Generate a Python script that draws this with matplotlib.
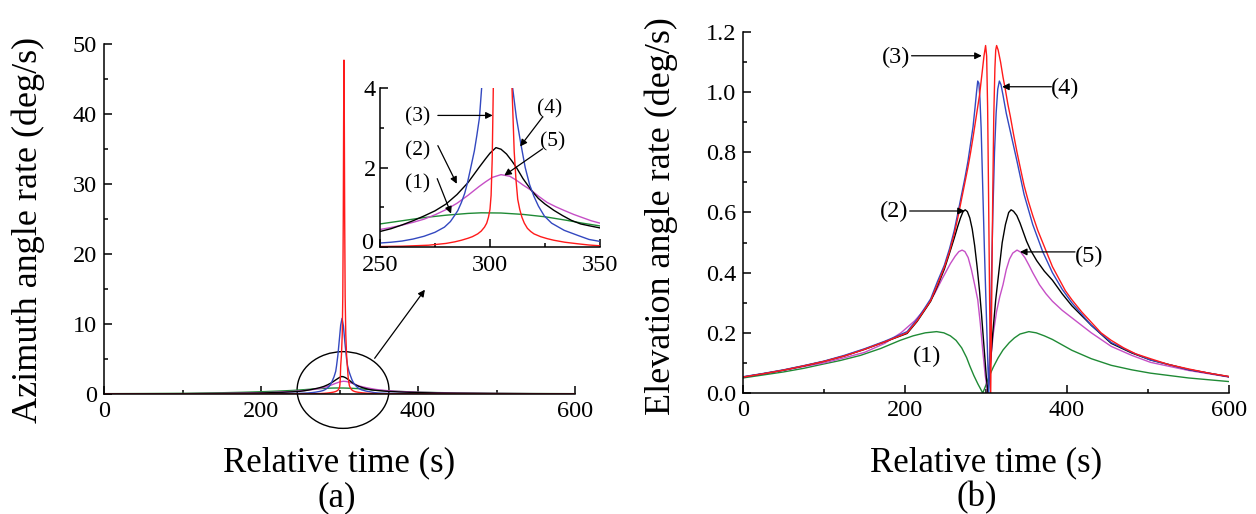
import numpy as np
import matplotlib.pyplot as plt
import matplotlib.transforms as mtrans
from matplotlib.patches import Ellipse

plt.rcParams['font.family'] = ['Liberation Serif', 'DejaVu Serif']

# ---- (a) azimuth angle rate, deg/s ----
az_t_red = [0, 100, 200, 250, 260, 265, 272, 280, 284, 287, 290, 292, 294.4, 296, 297.5, 298.5, 299.3,
            300, 300.5, 301, 301.5, 302.5, 303.5, 304.2, 304.8, 305.3, 305.7, 306.1, 306.6, 307.2, 308,
            309, 310, 311, 311.8, 312.6, 313.5, 314.5, 315.6, 317, 318.5, 320, 323, 326, 329, 334, 340,
            345, 350, 400, 500, 600]
az_v_red = [0, 0.003, 0.006, 0.012, 0.02, 0.03, 0.045, 0.09, 0.13, 0.17, 0.22, 0.26, 0.33, 0.4, 0.5, 0.6, 0.75,
            0.95, 1.3, 2.2, 4.0, 5.6, 8.5, 14, 25, 40, 47.7, 40, 25, 14, 8.5,
            5.6, 4.0, 2.4, 1.7, 1.2, 0.95, 0.75, 0.6, 0.47, 0.39, 0.33, 0.26, 0.21, 0.17, 0.12, 0.08,
            0.05, 0.03, 0.01, 0.004, 0.002]

az_t_blue = [0, 100, 200, 225, 240, 250, 255, 260, 265, 270, 275, 279.3, 282, 284, 285.4, 287, 288.5,
             289.6, 291, 292.9, 294, 295.2, 296.2, 298, 300, 301.5, 303.2, 305, 307, 309, 310.3, 312,
             314, 316, 318, 320, 322, 324.7, 328, 333.7, 340, 345, 350, 360, 375, 400, 500, 600]
az_v_blue = [0.003, 0.01, 0.03, 0.06, 0.08, 0.1, 0.12, 0.15, 0.2, 0.27, 0.37, 0.5, 0.64, 0.8, 0.92, 1.12, 1.35,
             1.58, 1.93, 2.42, 2.8, 3.25, 4.0, 5.6, 8.0, 9.83, 10.8, 9.72, 7.2, 5.0, 4.0, 3.25,
             2.6, 2.0, 1.57, 1.27, 1.03, 0.78, 0.6, 0.42, 0.29, 0.19, 0.14, 0.1, 0.07, 0.04, 0.01, 0.004]

az_t_black = [0, 50, 100, 150, 175, 200, 225, 240, 250, 255, 260, 265, 270, 275, 280, 285, 290, 295, 298,
              300, 302.7, 305, 307.5, 310, 312, 315, 318.9, 322, 325, 329.1, 333, 337, 341.2, 345, 350,
              360, 375, 400, 425, 450, 500, 550, 600]
az_v_black = [0.015, 0.025, 0.04, 0.07, 0.1, 0.14, 0.23, 0.31, 0.39, 0.46, 0.555, 0.66, 0.78, 0.91, 1.08, 1.32, 1.62, 2.0, 2.22,
              2.36, 2.5, 2.46, 2.34, 2.16, 2.0, 1.72, 1.42, 1.22, 1.08, 0.92, 0.79, 0.67, 0.58, 0.535, 0.48,
              0.39, 0.3, 0.2, 0.14, 0.1, 0.06, 0.04, 0.025]

az_t_mag = [0, 50, 100, 150, 175, 200, 225, 240, 250, 255, 260, 265, 270, 275, 280, 285, 290, 295, 298,
            301, 305, 309, 312, 315, 318.9, 322, 326, 330, 333.7, 338, 342, 346, 350, 360, 375, 400, 425,
            450, 500, 550, 600]
az_v_mag = [0.02, 0.03, 0.05, 0.09, 0.13, 0.18, 0.28, 0.36, 0.44, 0.49, 0.55, 0.62, 0.7, 0.81, 0.94, 1.1, 1.3, 1.52, 1.64,
            1.75, 1.82, 1.78, 1.68, 1.56, 1.42, 1.28, 1.12, 1.01, 0.92, 0.82, 0.74, 0.66, 0.6, 0.49, 0.37, 0.25, 0.18,
            0.13, 0.08, 0.05, 0.03]

az_t_green = [0, 50, 100, 150, 175, 200, 225, 240, 250, 260, 270, 280, 290, 296, 305, 315, 325, 335, 342,
              350, 360, 375, 400, 425, 450, 500, 550, 600]
az_v_green = [0.05, 0.07, 0.1, 0.18, 0.24, 0.32, 0.43, 0.51, 0.58, 0.66, 0.74, 0.8, 0.845, 0.86, 0.855, 0.82, 0.76,
              0.67, 0.6, 0.53, 0.45, 0.37, 0.27, 0.2, 0.16, 0.1, 0.07, 0.05]

# ---- (b) elevation angle rate, deg/s ----
el_t_red = [0, 25, 50, 75, 100, 125, 150, 175, 190, 202.6, 215, 225, 231.7, 240, 248.6, 255, 260.8, 265,
            269.5, 274, 277.7, 281, 284, 288, 292, 295, 297.5, 299.5, 300.8, 302, 303.2, 304.5, 305.8,
            307, 308.3, 309.6, 311, 312, 313.1, 315, 318, 321, 323.8, 327, 330, 334, 338.3, 343, 347,
            352, 357.7, 364, 370, 376, 382, 390, 398, 406, 418, 430, 442, 454.6, 470, 485, 503, 525,
            550, 575, 600]
el_v_red = [0.053, 0.064, 0.076, 0.09, 0.105, 0.123, 0.145, 0.17, 0.186, 0.2, 0.24, 0.28, 0.307, 0.36, 0.418, 0.47, 0.528, 0.58,
            0.64, 0.7, 0.75, 0.8, 0.85, 0.92, 0.99, 1.06, 1.12, 1.155, 1.12, 0.95, 0.65, 0.3, 0.0,
            0.3, 0.65, 0.92, 1.08, 1.14, 1.155, 1.14, 1.1, 1.05, 1.01, 0.96, 0.92, 0.86, 0.80, 0.74, 0.69,
            0.64, 0.59, 0.54, 0.5, 0.46, 0.42, 0.38, 0.34, 0.31, 0.27, 0.235, 0.2, 0.175, 0.15, 0.13, 0.114, 0.095,
            0.08, 0.066, 0.055]

el_t_blue = [0, 25, 50, 75, 100, 125, 150, 175, 190, 202.6, 215, 225, 231.7, 240, 248.6, 255, 260.8, 265,
             269.5, 274, 277.7, 281, 284, 286.5, 288.3, 289.8, 291.2, 292.5, 294, 296, 298, 300, 301.8,
             303.4, 305, 306.7, 308.5, 310.5, 312.5, 314.5, 316.5, 318.5, 321, 325, 330, 338.3, 347,
             357.7, 370, 382, 394, 406, 430, 454.6, 480, 503, 550, 600]
el_v_blue = [0.054, 0.065, 0.077, 0.091, 0.106, 0.125, 0.147, 0.172, 0.189, 0.204, 0.245, 0.285, 0.313, 0.37, 0.425, 0.48, 0.54, 0.595,
             0.655, 0.715, 0.77, 0.83, 0.885, 0.95, 1.0, 1.037, 1.03, 0.98, 0.88, 0.68, 0.48, 0.3, 0.14,
             0.0, 0.17, 0.38, 0.6, 0.8, 0.93, 1.01, 1.037, 1.025, 0.99, 0.93, 0.87, 0.77, 0.66,
             0.56, 0.47, 0.4, 0.345, 0.3, 0.225, 0.168, 0.135, 0.11, 0.078, 0.054]

el_t_black = [0, 25, 50, 75, 100, 125, 150, 175, 202.6, 215, 225, 231.7, 240, 248.6, 255, 260.8, 265,
              268.5, 271.5, 274.3, 277, 280, 283, 286, 289, 292, 294.5, 296.5, 298.5, 300.5, 302.5,
              305, 308.3, 312, 316.5, 320, 324, 328, 331, 334, 338, 342, 346, 350, 355, 362.6, 372,
              382, 394, 406, 430, 454.6, 480, 503, 550, 600]
el_v_black = [0.053, 0.064, 0.076, 0.09, 0.105, 0.123, 0.145, 0.17, 0.198, 0.238, 0.278, 0.305, 0.355, 0.412, 0.465, 0.515, 0.553,
              0.582, 0.602, 0.609, 0.603, 0.582, 0.545, 0.49, 0.42, 0.34, 0.26, 0.19, 0.12, 0.05, 0.0,
              0.08, 0.197, 0.31, 0.418, 0.5, 0.56, 0.6, 0.609, 0.604, 0.59, 0.565, 0.535, 0.505, 0.475, 0.44, 0.405,
              0.375, 0.33, 0.29, 0.225, 0.165, 0.133, 0.11, 0.078, 0.054]

el_t_mag = [0, 25, 50, 75, 100, 125, 150, 175, 195, 212, 225, 236.5, 246, 256, 262, 266.5, 270.5, 274,
            278, 282, 286, 289.8, 293, 296, 299, 302, 304, 306.5, 309, 313, 317, 321, 325, 329, 333,
            338.3, 343, 348, 353, 357.7, 366, 374, 382, 394, 406, 430, 454.6, 480, 503, 550, 600]
el_v_mag = [0.053, 0.064, 0.075, 0.088, 0.1, 0.117, 0.135, 0.165, 0.2, 0.24, 0.28, 0.33, 0.38, 0.43, 0.455, 0.47, 0.475, 0.47,
            0.45, 0.41, 0.36, 0.31, 0.23, 0.14, 0.06, 0.0, 0.06, 0.13, 0.197, 0.27, 0.32, 0.36, 0.41, 0.445, 0.465,
            0.475, 0.468, 0.45, 0.425, 0.4, 0.36, 0.33, 0.305, 0.275, 0.25, 0.2, 0.155, 0.125, 0.102, 0.075, 0.053]

el_t_green = [0, 25, 50, 75, 97, 120, 145, 170, 194, 210, 225, 239, 248, 256, 263, 270, 276, 280, 285,
              290, 296, 299, 303, 309, 315, 321, 328.6, 335, 342, 352.9, 362, 372, 382, 394, 406, 430,
              454.6, 480, 503, 550, 600]
el_v_green = [0.05, 0.06, 0.07, 0.082, 0.095, 0.108, 0.125, 0.148, 0.175, 0.19, 0.2, 0.204, 0.2, 0.19, 0.175, 0.15, 0.118, 0.09, 0.058,
              0.03, 0.0, 0.02, 0.05, 0.086, 0.117, 0.143, 0.167, 0.183, 0.196, 0.204, 0.2, 0.19, 0.178, 0.16, 0.142, 0.114,
              0.092, 0.077, 0.066, 0.05, 0.038]

c_red = '#ff1a1a'
c_blue = '#3348c0'
c_black = 'black'
c_mag = '#c64fc6'
c_green = '#1f8a35'
lw = 1.0

arrow = dict(arrowstyle='-|>', color='k', lw=0.9, shrinkA=0, shrinkB=0, mutation_scale=10)


def style_axes(ax, labelsize=17.5):
    ax.spines['top'].set_visible(False)
    ax.spines['right'].set_visible(False)
    for s in ['left', 'bottom']:
        ax.spines[s].set_linewidth(1.1)
    ax.tick_params(which='major', direction='in', length=6, width=1.1, labelsize=labelsize, pad=5)
    ax.tick_params(which='minor', direction='in', length=3, width=1.1)


def draw_az(ax):
    ax.plot(az_t_green, az_v_green, color=c_green, lw=lw)
    ax.plot(az_t_mag, az_v_mag, color=c_mag, lw=lw)
    ax.plot(az_t_black, az_v_black, color=c_black, lw=lw)
    ax.plot(az_t_blue, az_v_blue, color=c_blue, lw=lw)
    ax.plot(az_t_red, az_v_red, color=c_red, lw=lw)


fig = plt.figure(figsize=(12.56, 5.14), dpi=100)

# left main panel
ax1 = fig.add_axes([104 / 1256, 1 - 394 / 514, 471 / 1256, 350 / 514])
draw_az(ax1)
ax1.set_xlim(0, 600)
ax1.set_ylim(0, 50)
ax1.set_xticks([0, 200, 400, 600])
ax1.set_xticks([100, 300, 500], minor=True)
ax1.set_yticks(np.arange(0, 51, 10))
ax1.set_yticks(np.arange(5, 50, 10), minor=True)
style_axes(ax1)
ax1.add_patch(Ellipse((304.5, 0.57), 117, 10.96, fill=False, ec='k', lw=1.0, clip_on=False))
ax1.annotate('', xy=(408.8, 14.9), xytext=(344.8, 5.1), arrowprops=arrow)

# inset
axi = fig.add_axes([380 / 1256, 1 - 247 / 514, 220 / 1256, 159 / 514])
draw_az(axi)
axi.set_xlim(250, 350)
axi.set_ylim(0, 4)
axi.set_xticks([250, 300, 350])
axi.set_xticks([275, 325], minor=True)
axi.set_yticks([0, 2, 4])
axi.set_yticks([1, 3], minor=True)
style_axes(axi)
axi.tick_params(axis='y', which='major', pad=3)
axi.tick_params(axis='x', which='major', pad=6)
axi.patch.set_alpha(0)
# lift the "0" a little so it clears the "250" below it
lbl0 = axi.get_yticklabels()[0]
lbl0.set_transform(lbl0.get_transform() + mtrans.ScaledTranslation(-2 / 72, 4 / 72, fig.dpi_scale_trans))

fs_in = 15.5
axi.text(267.2, 3.27, '(3)', fontsize=fs_in, ha='center', va='center')
axi.text(267.2, 2.43, '(2)', fontsize=fs_in, ha='center', va='center')
axi.text(267.2, 1.59, '(1)', fontsize=fs_in, ha='center', va='center')
axi.text(326.9, 3.47, '(4)', fontsize=fs_in, ha='center', va='center')
axi.text(328.4, 2.64, '(5)', fontsize=fs_in, ha='center', va='center')
axi.annotate('', xy=(301.2, 3.31), xytext=(276.3, 3.31), arrowprops=arrow)
axi.annotate('', xy=(284.9, 1.59), xytext=(276.3, 2.55), arrowprops=arrow)
axi.annotate('', xy=(282.3, 0.84), xytext=(276.0, 1.72), arrowprops=arrow)
axi.annotate('', xy=(313.7, 2.53), xytext=(323.9, 3.27), arrowprops=arrow)
axi.annotate('', xy=(306.5, 1.80), xytext=(323.9, 2.47), arrowprops=arrow)

# right panel
ax2 = fig.add_axes([743 / 1256, 1 - 393 / 514, 486 / 1256, 361 / 514])
ax2.plot(el_t_green, el_v_green, color=c_green, lw=lw)
ax2.plot(el_t_mag, el_v_mag, color=c_mag, lw=lw)
ax2.plot(el_t_black, el_v_black, color=c_black, lw=lw)
ax2.plot(el_t_blue, el_v_blue, color=c_blue, lw=lw)
ax2.plot(el_t_red, el_v_red, color=c_red, lw=lw)
ax2.set_xlim(0, 600)
ax2.set_ylim(0, 1.2)
ax2.set_xticks([0, 200, 400, 600])
ax2.set_xticks([100, 300, 500], minor=True)
ax2.set_yticks(np.arange(0, 1.21, 0.2))
ax2.set_yticks(np.arange(0.1, 1.2, 0.2), minor=True)
ax2.yaxis.set_major_formatter(plt.FormatStrFormatter('%.1f'))
style_axes(ax2)

fs_an = 17.5
ax2.text(188.9, 1.114, '(3)', fontsize=fs_an, ha='center', va='center')
ax2.text(397.5, 1.011, '(4)', fontsize=fs_an, ha='center', va='center')
ax2.text(186.4, 0.603, '(2)', fontsize=fs_an, ha='center', va='center')
ax2.text(426.9, 0.455, '(5)', fontsize=fs_an, ha='center', va='center')
ax2.text(227.7, 0.123, '(1)', fontsize=fs_an, ha='center', va='center')
ax2.annotate('', xy=(294.7, 1.121), xytext=(208.1, 1.121), arrowprops=arrow)
ax2.annotate('', xy=(320.0, 1.018), xytext=(380.7, 1.018), arrowprops=arrow)
ax2.annotate('', xy=(273.8, 0.605), xytext=(205.8, 0.605), arrowprops=arrow)
ax2.annotate('', xy=(342.0, 0.469), xytext=(409.9, 0.469), arrowprops=arrow)

# axis titles
fig.text(28 / 1256, 1 - 230 / 514, 'Azimuth angle rate (deg/s)', rotation=90,
         fontsize=26, ha='center', va='center')
fig.text(661 / 1256, 1 - 216 / 514, 'Elevation angle rate (deg/s)', rotation=90,
         fontsize=26, ha='center', va='center')
fig.text(339 / 1256, 1 - 463 / 514, 'Relative time (s)', fontsize=25, ha='center', va='center')
fig.text(986 / 1256, 1 - 463 / 514, 'Relative time (s)', fontsize=25, ha='center', va='center')
fig.text(337 / 1256, 1 - 498 / 514, '(a)', fontsize=25, ha='center', va='center')
fig.text(977 / 1256, 1 - 498 / 514, '(b)', fontsize=25, ha='center', va='center')

fig.savefig('out.png', dpi=100)
